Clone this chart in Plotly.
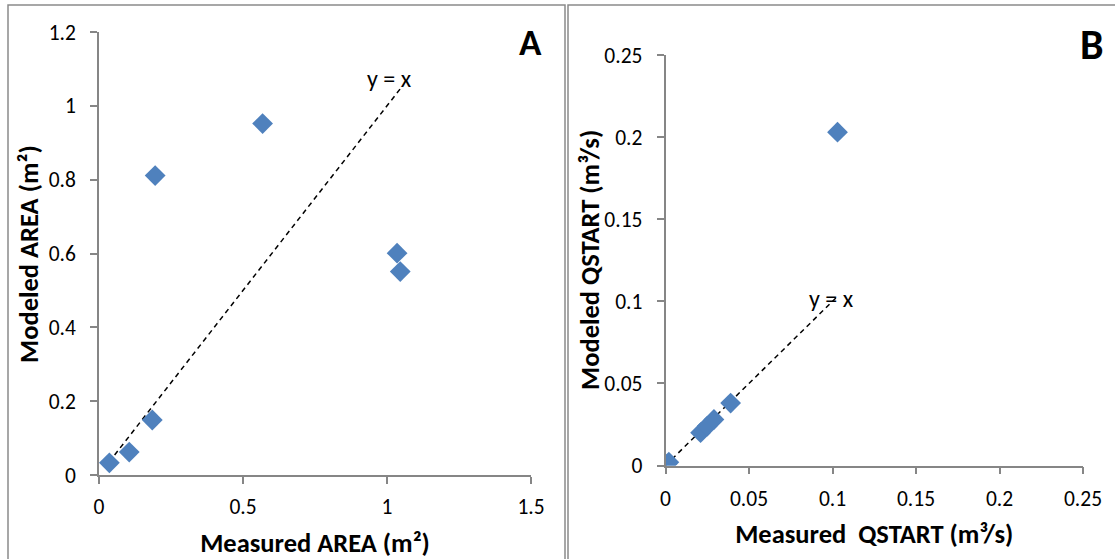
import plotly.graph_objects as go

# Panel A data
measured_area = [0.036, 0.105, 0.185, 0.195, 0.568, 1.035, 1.046]
modeled_area = [0.033, 0.062, 0.149, 0.811, 0.952, 0.601, 0.551]
line_a = [0.035, 1.05]

# Panel B data
measured_q = [0.001, 0.002, 0.021, 0.025, 0.029, 0.039, 0.103]
modeled_q = [0.001, 0.002, 0.020, 0.024, 0.028, 0.038, 0.203]
line_b = [0.0, 0.102]

W, H = 1115, 559
FONT = "Carlito, Calibri, Lato, sans-serif"
BLUE = "#4F81BD"
AXC = "#868686"

def px(x):
    return x / W

def py(y):
    return 1 - y / H

fig = go.Figure()

fig.add_trace(go.Scatter(x=line_a, y=line_a, mode="lines",
                         line=dict(color="black", width=1.5, dash="5px,4px"),
                         xaxis="x", yaxis="y", showlegend=False, hoverinfo="skip"))
fig.add_trace(go.Scatter(x=measured_area, y=modeled_area, mode="markers",
                         marker=dict(symbol="diamond", size=16, color=BLUE),
                         xaxis="x", yaxis="y", showlegend=False))
fig.add_trace(go.Scatter(x=line_b, y=line_b, mode="lines",
                         line=dict(color="black", width=1.5, dash="5px,4px"),
                         xaxis="x2", yaxis="y2", showlegend=False, hoverinfo="skip"))
fig.add_trace(go.Scatter(x=measured_q, y=modeled_q, mode="markers",
                         marker=dict(symbol="diamond", size=16, color=BLUE),
                         xaxis="x2", yaxis="y2", showlegend=False))

tickfont = dict(family=FONT, size=21.5, color="black")
titlefont = dict(family=FONT, size=26.5, color="black", weight="bold")

common = dict(showgrid=False, zeroline=False, showline=True, linecolor=AXC,
              linewidth=1.5, ticks="outside", ticklen=7, tickcolor=AXC,
              tickwidth=1.5, tickfont=tickfont, automargin=False)

fig.update_layout(
    width=W, height=H,
    margin=dict(l=0, r=0, t=0, b=0, autoexpand=False),
    paper_bgcolor="white", plot_bgcolor="white",
    xaxis=dict(domain=[px(99), px(531)], range=[0, 1.5], tickvals=[0, 0.5, 1, 1.5],
               ticktext=["0", "0.5", "1", "1.5"], anchor="y", ticklabelstandoff=4,
               title=dict(text="Measured AREA (m²)", font=titlefont, standoff=16), **common),
    yaxis=dict(domain=[py(475), py(32)], range=[0, 1.2],
               tickvals=[0, 0.2, 0.4, 0.6, 0.8, 1, 1.2],
               ticktext=["0", "0.2", "0.4", "0.6", "0.8", "1", "1.2"], anchor="x",
               ticklabelstandoff=10, **common),
    xaxis2=dict(domain=[px(665.5), px(1083)], range=[0, 0.25],
                tickvals=[0, 0.05, 0.1, 0.15, 0.2, 0.25],
                ticktext=["0", "0.05", "0.1", "0.15", "0.2", "0.25"], anchor="y2",
                ticklabelstandoff=6,
                title=dict(text="Measured&nbsp;&nbsp;QSTART (m³/s)", font=titlefont, standoff=13),
                **common),
    yaxis2=dict(domain=[py(465.5), py(55)], range=[0, 0.25],
                tickvals=[0, 0.05, 0.1, 0.15, 0.2, 0.25],
                ticktext=["0", "0.05", "0.1", "0.15", "0.2", "0.25"], anchor="x2",
                ticklabelstandoff=10, **common),
)

# y-axis titles (placed explicitly)
fig.add_annotation(x=px(29), y=py(254), xref="paper", yref="paper",
                   text="Modeled AREA (m²)", textangle=-90, showarrow=False,
                   xanchor="center", yanchor="middle", font=titlefont)
fig.add_annotation(x=px(590), y=py(260), xref="paper", yref="paper",
                   text="Modeled QSTART (m³/s)", textangle=-90, showarrow=False,
                   xanchor="center", yanchor="middle", font=titlefont)

# panel borders
fig.add_shape(type="rect", xref="paper", yref="paper",
              x0=px(8), x1=px(565), y0=py(575), y1=py(5),
              line=dict(color="#8a8a8a", width=1.5), layer="below")
fig.add_shape(type="rect", xref="paper", yref="paper",
              x0=px(568), x1=px(1130), y0=py(575), y1=py(5),
              line=dict(color="#8a8a8a", width=1.5), layer="below")

# y = x labels
fig.add_annotation(x=1.007, y=1.073, xref="x", yref="y", text="y = x", showarrow=False,
                   font=dict(family=FONT, size=24, color="black"))
fig.add_annotation(x=0.0995, y=0.102, xref="x2", yref="y2", text="y = x", showarrow=False,
                   font=dict(family=FONT, size=24, color="black"))

# panel letters
fig.add_annotation(x=px(530), y=py(42), xref="paper", yref="paper", text="<b>A</b>",
                   xanchor="center", yanchor="middle",
                   showarrow=False, font=dict(family=FONT, size=37, color="black"))
fig.add_annotation(x=px(1092), y=py(45), xref="paper", yref="paper", text="<b>B</b>",
                   xanchor="center", yanchor="middle",
                   showarrow=False, font=dict(family=FONT, size=42, color="black"))

fig.write_html("out.html", config={"displayModeBar": False},
               post_script="document.body.style.margin='0';")
